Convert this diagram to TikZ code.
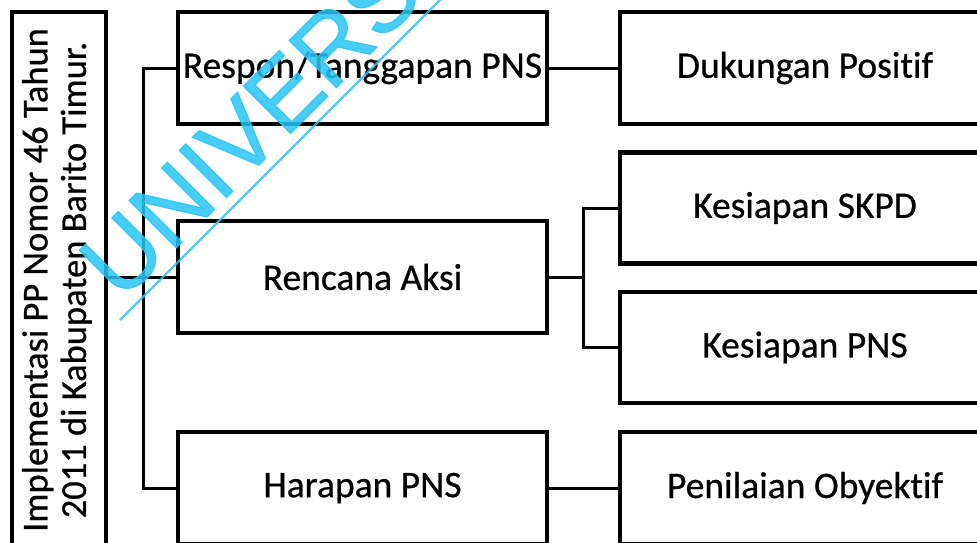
\documentclass[tikz,border=0pt]{standalone}
\usepackage{fontspec}
\setmainfont[Ligatures=NoCommon,FakeBold=0.6]{Carlito}
\newfontfamily\wmfont[FakeBold=1.2]{Liberation Sans}
\definecolor{wmcyan}{RGB}{40,196,245}
\begin{document}
\begin{tikzpicture}[x=1pt,y=-1pt,
  boxnode/.style={draw=black,line width=4.2pt,inner sep=0pt,align=center,
    font=\fontsize{37.5}{42}\selectfont},
  conn/.style={line width=3pt}]
\useasboundingbox (0,0) rectangle (977,542);
\clip (0,0) rectangle (977,542);
\node[boxnode,minimum width=94,minimum height=536,font=\fontsize{36.5}{38.5}\selectfont] (L) at (59,280)
  {\rotatebox{90}{\begin{tabular}{@{}c@{}}Implementasi PP Nomor 46 Tahun\\2011 di Kabupaten Barito Timur.\end{tabular}}};
\node[boxnode,minimum width=369,minimum height=112] (A1) at (362.5,68) {Respon/Tanggapan PNS};
\node[boxnode,minimum width=369,minimum height=112] (A2) at (362.5,277) {Rencana Aksi};
\node[boxnode,minimum width=369,minimum height=112] (A3) at (362.5,488) {Harapan PNS};
\node[boxnode,minimum width=370,minimum height=112] (B1) at (805,68) {Dukungan Positif};
\node[boxnode,minimum width=370,minimum height=111] (B2) at (805,208) {Kesiapan SKPD};
\node[boxnode,minimum width=370,minimum height=111] (B3) at (805,347.5) {Kesiapan PNS};
\node[boxnode,minimum width=370,minimum height=112] (B4) at (805,488) {Penilaian Obyektif};
\coordinate (bx) at (143,0);
\coordinate (by) at (583,0);
\draw[conn] (L.east |- A2.west) -- (A2.west);
\draw[conn] (A1.west) -- (A1.west -| bx) -- (A3.west -| bx) -- (A3.west);
\draw[conn] (A1.east) -- (B1.west);
\draw[conn] (A3.east) -- (B4.west);
\draw[conn] (A2.east) -- (A2.east -| by);
\draw[conn] (B2.west) -- (B2.west -| by) -- (B3.west -| by) -- (B3.west);
\node[text=wmcyan,opacity=0.85,rotate=45,anchor=base west,inner sep=0pt,
  font=\wmfont\fontsize{97}{100}\selectfont] (wm) at (121,303) {UNIVERSI};
\coordinate (wl1) at (120,320);
\coordinate (wl2) at (445,-5);
\draw[wmcyan,opacity=0.85,line width=2.2pt] (wl1) -- (wl2);
\end{tikzpicture}
\end{document}
